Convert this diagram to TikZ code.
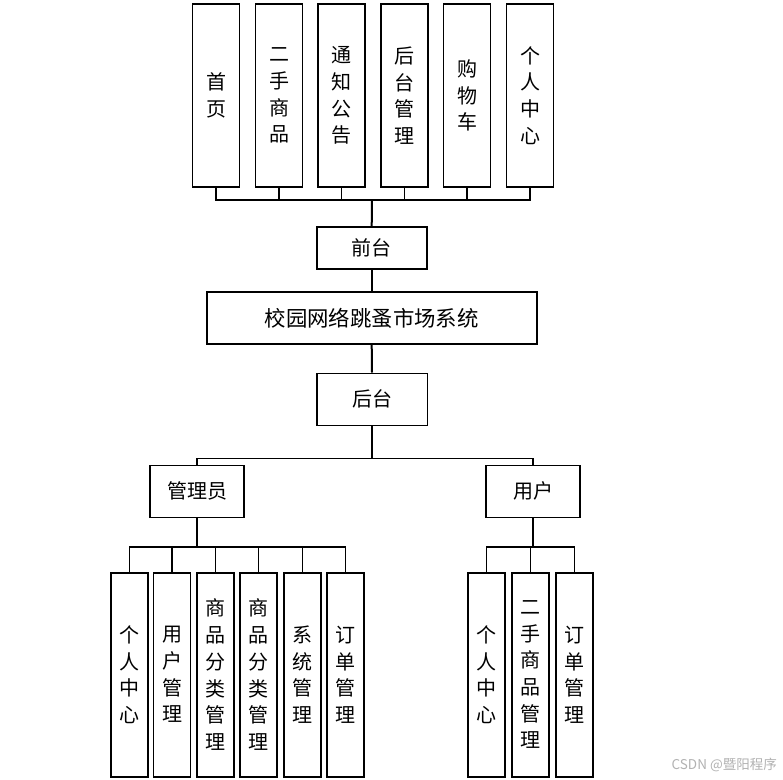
\documentclass[tikz,border=0pt]{standalone}
\usepackage{fontspec}
\setmainfont{Noto Sans CJK SC}
\begin{document}
\begin{tikzpicture}[x=1pt,y=-1pt,
  box/.style={draw=black,line width=1.6pt,inner sep=0pt,align=center,
    font=\fontsize{20}{26.7}\selectfont},
  vbox/.style={box,minimum width=47pt,minimum height=183pt},
  lbox/.style={box,minimum width=37pt,minimum height=204pt},
  link/.style={line width=1.6pt},
  trunk/.style={line width=2pt}]
\useasboundingbox[fill=white] (0,0) rectangle (783,779);
% top level
\node[vbox] (t1) at (216,95.5) {首\\页};
\node[vbox] (t2) at (279,95.5) {二\\手\\商\\品};
\node[vbox] (t3) at (341.5,95.5) {通\\知\\公\\告};
\node[vbox] (t4) at (404.5,95.5) {后\\台\\管\\理};
\node[vbox] (t5) at (467,95.5) {购\\物\\车};
\node[vbox] (t6) at (530,95.5) {个\\人\\中\\心};
\node[box,minimum width=110pt,minimum height=42pt] (qt) at (371.7,248) {前台};
\node[box,minimum width=330pt,minimum height=52pt,font=\fontsize{21.4}{26}\selectfont] (main) at (371.7,318) {校园网络跳蚤市场系统};
\node[box,minimum width=110.6pt,minimum height=52pt] (ht) at (372,399.3) {后台};
\node[box,minimum width=94pt,minimum height=52pt] (adm) at (197,491.3) {管理员};
\node[box,minimum width=94pt,minimum height=52pt] (usr) at (533,491.3) {用户};
% admin children
\node[lbox] (a1) at (129.5,674.7) {个\\人\\中\\心};
\node[lbox] (a2) at (172,674.7) {用\\户\\管\\理};
\node[lbox] (a3) at (215.5,674.7) {商\\品\\分\\类\\管\\理};
\node[lbox] (a4) at (258.5,674.7) {商\\品\\分\\类\\管\\理};
\node[lbox] (a5) at (302.5,674.7) {系\\统\\管\\理};
\node[lbox] (a6) at (345.5,674.7) {订\\单\\管\\理};
% user children
\node[lbox] (u1) at (486.5,674.7) {个\\人\\中\\心};
\node[lbox] (u2) at (530.5,674.7) {二\\手\\商\\品\\管\\理};
\node[lbox] (u3) at (574.5,674.7) {订\\单\\管\\理};
% bus coordinates
\coordinate (tb) at (372,200);
\coordinate (mb) at (372,458.3);
\coordinate (ab) at (197,546.7);
\coordinate (ub) at (533,546.7);
% connectors
\foreach \n in {t1,t2,t3,t4,t5,t6} \draw[link] (\n.south) |- (tb);
\draw[trunk] (tb) -- (qt.north);
\draw[trunk] (qt.south) -- (main.north);
\draw[trunk] (main.south) -- (ht.north);
\draw[trunk] (ht.south) -- (mb);
\draw[link] (mb) -| (adm.north);
\draw[link] (mb) -| (usr.north);
\draw[trunk] (adm.south) -- (ab);
\draw[trunk] (usr.south) -- (ub);
\foreach \n in {a1,a2,a3,a4,a5,a6} \draw[link] (ab) -| (\n.north);
\foreach \n in {u1,u2,u3} \draw[link] (ub) -| (\n.north);
% watermark
\node[anchor=east,inner sep=0pt,text=black!30,font=\fontsize{13.5}{14}\selectfont] (wm) at (777,765) {CSDN\ @暨阳程序};
\end{tikzpicture}
\end{document}
